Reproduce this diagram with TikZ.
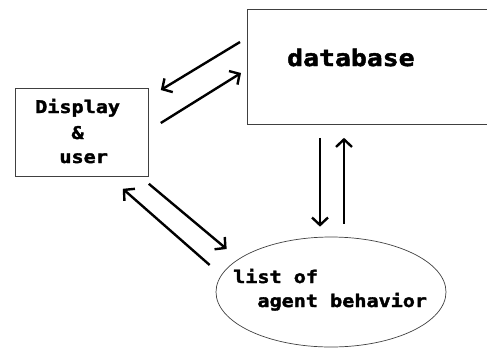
\documentclass[tikz,border=0pt]{standalone}
\usepackage{fontspec}
\newfontfamily\diagmono[FakeStretch=1.15,FakeBold=2]{DejaVu Sans Mono Bold}
\usetikzlibrary{arrows.meta,calc,shapes.geometric}
\tikzset{
  boxline/.style={draw=black!75, line width=0.8pt},
  flow/.style={line width=2.4pt, -{Straight Barb[length=7.5pt,width=16pt,line width=2.4pt]}},
  lbl/.style={font=\diagmono\fontsize{17.5}{25}\selectfont, align=left, inner sep=0pt, anchor=base west},
}
\begin{document}
\begin{tikzpicture}[x=1pt,y=-1pt]
\useasboundingbox (0,0) rectangle (487,349);
\clip (0,0) rectangle (487,349);
% shapes
\node[boxline, minimum width=133pt, minimum height=88pt, anchor=north west, inner sep=0pt] (disp) at (15,88) {};
\node[boxline, minimum width=260pt, minimum height=115pt, anchor=north west, inner sep=0pt] (db) at (247,9) {};
\node[boxline, line width=0.7pt, ellipse, inner sep=0pt, minimum width=230pt, minimum height=110pt] (ell) at (331,292) {};
% texts
\node[lbl] (tdisp) at (35,113) {Display};
\node[lbl] (tamp) at (35,139) {\phantom{Dis}\&};
\node[lbl] (tuser) at (35,163) {\phantom{Di}user};
\node[lbl, font=\diagmono\fontsize{23}{25}\selectfont] (tdb) at (287,66) {database};
\node[lbl] (tlist) at (233,283) {list of};
\node[lbl] (tagent) at (233,307) {\phantom{li}agent behavior};
% connectors
\draw[flow] ($(db.north west)+(-7,33)$) -- ($(disp.north east)+(12,2)$);
\draw[flow] ($(disp.north east)+(12,35)$) -- ($(db.north west)+(-6,64)$);
\draw[flow] ($(db.south west)+(73,13)$) -- ($(ell.north)+(-11,-10)$);
\draw[flow] ($(ell.north)+(13,-13)$) -- ($(db.south west)+(97,13)$);
\draw[flow] ($(disp.south east)+(0,7)$) -- ($(ell.west)+(11,-43)$);
\draw[flow] ($(ell.west)+(-6,-27)$) -- ($(disp.south east)+(-26,12)$);
\end{tikzpicture}
\end{document}
